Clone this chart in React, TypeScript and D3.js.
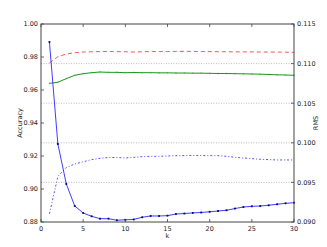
import React from "react";
import * as d3 from "d3";

// k values on the x axis
const ks = [1, 2, 3, 4, 5, 6, 7, 8, 9, 10, 11, 12, 13, 14, 15, 16, 17, 18, 19, 20, 21, 22, 23, 24, 25, 26, 27, 28, 29, 30];

// accuracy series (left axis)
const accRed = [0.9764, 0.9802, 0.9818, 0.9826, 0.983, 0.9832, 0.9833, 0.9833, 0.9833, 0.9832, 0.983, 0.9832, 0.9833, 0.9833, 0.9833, 0.9834, 0.9834, 0.9834, 0.9833, 0.9833, 0.9832, 0.9832, 0.9831, 0.9831, 0.9831, 0.983, 0.983, 0.983, 0.9829, 0.9828];
const accGreen = [0.964, 0.9647, 0.9669, 0.9689, 0.9699, 0.9705, 0.9709, 0.9707, 0.9707, 0.9705, 0.9706, 0.9705, 0.9705, 0.9704, 0.9704, 0.9703, 0.9703, 0.9702, 0.9702, 0.9701, 0.97, 0.97, 0.9699, 0.9698, 0.9697, 0.9696, 0.9694, 0.9692, 0.9691, 0.9689];
const accBlue = [0.885, 0.9076, 0.913, 0.9152, 0.9165, 0.9178, 0.9186, 0.9191, 0.9191, 0.9188, 0.9192, 0.9196, 0.9198, 0.9198, 0.92, 0.9202, 0.9203, 0.9203, 0.9203, 0.9202, 0.9202, 0.9198, 0.9192, 0.9188, 0.9184, 0.918, 0.9178, 0.9176, 0.9176, 0.9176];

// RMS series (right axis)
const rmsBlue = [0.11273, 0.09985, 0.0948, 0.09202, 0.09114, 0.09072, 0.09042, 0.09042, 0.09022, 0.09028, 0.09032, 0.0906, 0.09076, 0.09076, 0.0908, 0.09101, 0.09107, 0.09115, 0.0912, 0.09129, 0.09139, 0.09148, 0.0917, 0.09189, 0.09198, 0.09202, 0.09211, 0.09224, 0.09236, 0.09244];

const xTicks = [0, 5, 10, 15, 20, 25, 30];
const accTicks = [0.88, 0.9, 0.92, 0.94, 0.96, 0.98, 1.0];
const rmsTicks = [0.09, 0.095, 0.1, 0.105, 0.11, 0.115];

const W = 327;
const H = 247;
const m = { left: 41, right: 294, top: 24, bottom: 222 };
const font = "DejaVu Sans, sans-serif";

export default function App() {
  const x = d3.scaleLinear().domain([0, 30]).range([m.left, m.right]);
  const yL = d3.scaleLinear().domain([0.88, 1.0]).range([m.bottom, m.top]);
  const yR = d3.scaleLinear().domain([0.09, 0.115]).range([m.bottom, m.top]);

  const lineL = (vals: number[]) =>
    d3.line<number>().x((_, i) => x(ks[i])).y((d) => yL(d))(vals) || "";
  const lineR = (vals: number[]) =>
    d3.line<number>().x((_, i) => x(ks[i])).y((d) => yR(d))(vals) || "";

  return (
    <svg width={W} height={H} style={{ position: "absolute", left: 0, top: 0, background: "#fff" }} fontFamily={font}>
      {/* grid from right axis */}
      {rmsTicks.slice(1, -1).map((t) => (
        <line key={"g" + t} x1={m.left} x2={m.right} y1={yR(t)} y2={yR(t)} stroke="#aaa" strokeWidth={0.8} strokeDasharray="1,1.5" />
      ))}

      <path d={lineL(accRed)} fill="none" stroke="#ff4040" strokeWidth={0.9} strokeDasharray="4,3" />
      <path d={lineL(accGreen)} fill="none" stroke="#1a961a" strokeWidth={1} />
      {accGreen.map((v, i) => (
        <line key={"gm" + i} x1={x(ks[i])} x2={x(ks[i])} y1={yL(v) - 0.9} y2={yL(v) + 0.9} stroke="#1a961a" strokeWidth={0.5} />
      ))}
      <path d={lineL(accBlue)} fill="none" stroke="#4040ff" strokeWidth={0.9} strokeDasharray="2,2,1,2" />
      <path d={lineR(rmsBlue)} fill="none" stroke="#2828ff" strokeWidth={0.9} />
      {rmsBlue.map((v, i) => (
        <rect key={"bm" + i} x={x(ks[i]) - 0.9} y={yR(v) - 0.9} width={1.8} height={1.8} fill="#000080" />
      ))}

      {/* frame */}
      <rect x={m.left} y={m.top} width={m.right - m.left} height={m.bottom - m.top} fill="none" stroke="#444" strokeWidth={1} />

      {/* x ticks */}
      {xTicks.map((t) => (
        <g key={"x" + t}>
          <line x1={x(t)} x2={x(t)} y1={m.bottom} y2={m.bottom - 3} stroke="#444" strokeWidth={0.8} />
          <line x1={x(t)} x2={x(t)} y1={m.top} y2={m.top + 3} stroke="#444" strokeWidth={0.8} />
          <text x={x(t)} y={m.bottom + 8.5} fontSize={6.5} textAnchor="middle" fill="#222">{t}</text>
        </g>
      ))}
      {/* left ticks */}
      {accTicks.map((t) => (
        <g key={"l" + t}>
          <line x1={m.left} x2={m.left + 3} y1={yL(t)} y2={yL(t)} stroke="#444" strokeWidth={0.8} />
          <text x={m.left - 3} y={yL(t) + 2.3} fontSize={6.5} textAnchor="end" fill="#222">{t.toFixed(2)}</text>
        </g>
      ))}
      {/* right ticks */}
      {rmsTicks.map((t) => (
        <g key={"r" + t}>
          <line x1={m.right - 3} x2={m.right} y1={yR(t)} y2={yR(t)} stroke="#444" strokeWidth={0.8} />
          <text x={m.right + 3} y={yR(t) + 2.3} fontSize={6.5} textAnchor="start" fill="#222">{t.toFixed(3)}</text>
        </g>
      ))}

      <text x={(m.left + m.right) / 2} y={238} fontSize={6.5} textAnchor="middle" fill="#222">k</text>
      <text transform={`translate(22,${(m.top + m.bottom) / 2}) rotate(-90)`} fontSize={6.5} textAnchor="middle" fill="#222">Accuracy</text>
      <text transform={`translate(318,${(m.top + m.bottom) / 2}) rotate(-90)`} fontSize={6.5} textAnchor="middle" fill="#222">RMS</text>
    </svg>
  );
}
